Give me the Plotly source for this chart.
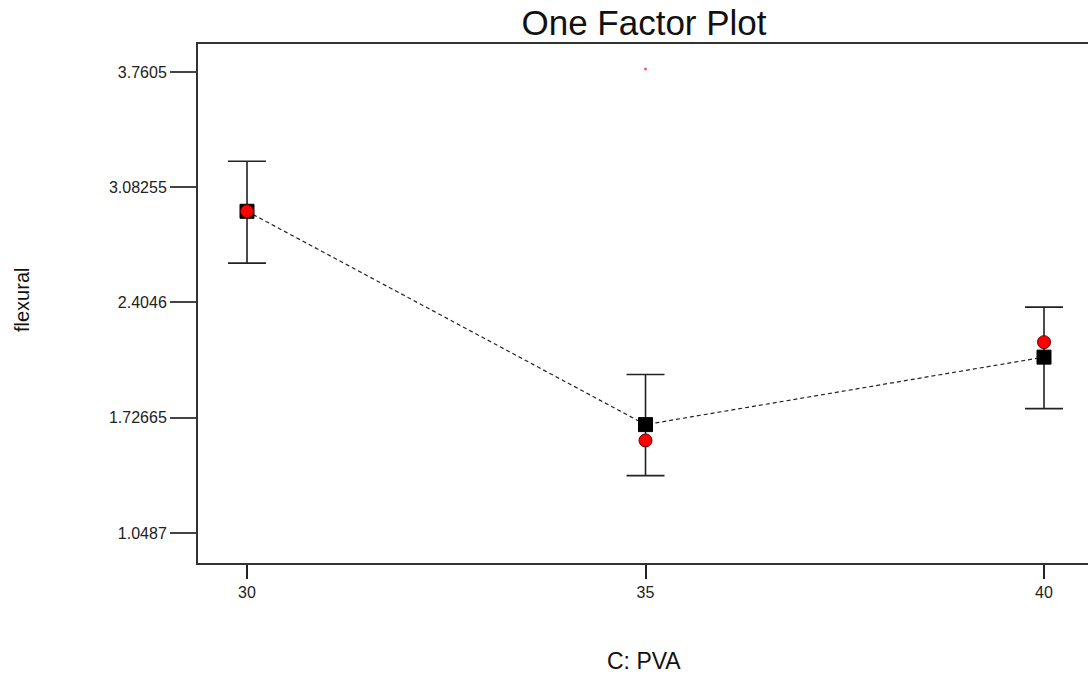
import plotly.graph_objects as go

# Data
pva_levels = [30, 35, 40]
predicted = [2.941, 1.686, 2.083]
actual = [2.941, 1.593, 2.171]
ci_upper = [3.235, 1.981, 2.377]
ci_lower = [2.636, 1.386, 1.780]
outlier_x = [35]
outlier_y = [3.778]

y_ticks = [1.0487, 1.72665, 2.4046, 3.08255, 3.7605]
y_tick_labels = ["1.0487", "1.72665", "2.4046", "3.08255", "3.7605"]
x_ticks = [30, 35, 40]

W, H = 1088, 674
L, T, B, R = 198, 44, 111, 0
font = "Liberation Sans, Arial, sans-serif"

fig = go.Figure()

# dashed model line
fig.add_trace(go.Scatter(
    x=pva_levels, y=predicted, mode="lines",
    line=dict(color="#222222", width=1.2, dash="4px,3px"),
    hoverinfo="skip", showlegend=False))

# error bars (around predicted) + predicted squares
fig.add_trace(go.Scatter(
    x=pva_levels, y=predicted, mode="markers",
    marker=dict(symbol="square", size=14, color="black", line=dict(color="black", width=1)),
    error_y=dict(type="data", symmetric=False,
                 array=[u - p for u, p in zip(ci_upper, predicted)],
                 arrayminus=[p - l for p, l in zip(predicted, ci_lower)],
                 color="#222222", thickness=1.6, width=19),
    showlegend=False))

# actual points
fig.add_trace(go.Scatter(
    x=pva_levels, y=actual, mode="markers",
    marker=dict(symbol="circle", size=13, color="#ff0000", line=dict(color="#660000", width=1)),
    showlegend=False))

# tiny stray point
fig.add_trace(go.Scatter(
    x=outlier_x, y=outlier_y, mode="markers",
    marker=dict(symbol="circle", size=3, color="#f06070"),
    showlegend=False))

fig.update_layout(
    width=W, height=H,
    margin=dict(l=L, r=R, t=T, b=B),
    paper_bgcolor="white", plot_bgcolor="white",
    font=dict(family=font, color="#222222"),
    title=dict(text="One Factor Plot", x=(644) / W, xanchor="center",
               y=1 - 23 / H, yanchor="middle",
               font=dict(size=35, color="#111111", family=font)),
    xaxis=dict(range=[29.385, 40.552], tickvals=x_ticks,
               ticktext=[str(v) for v in x_ticks],
               showgrid=False, zeroline=False,
               showline=True, linecolor="#333333", linewidth=2, mirror=True,
               ticks="outside", ticklen=14, tickwidth=1.5, tickcolor="#222222",
               tickfont=dict(size=16, color="#222222")),
    yaxis=dict(range=[0.872, 3.925], tickvals=y_ticks, ticktext=y_tick_labels,
               showgrid=False, zeroline=False,
               showline=True, linecolor="#333333", linewidth=2, mirror=False,
               ticks="outside", ticklen=26, tickwidth=1.5, tickcolor="#444444",
               tickfont=dict(size=16, color="#222222")),
    annotations=[
        dict(text="C: PVA", xref="paper", yref="paper",
             x=(644 - L) / (W - L - R), y=-(661 - (H - B)) / (H - T - B),
             xanchor="center", yanchor="middle", showarrow=False,
             font=dict(size=23, color="#111111", family=font)),
        dict(text="flexural", xref="paper", yref="paper",
             x=-(L - 22) / (W - L - R), y=1 - (300 - T) / (H - T - B),
             xanchor="center", yanchor="middle", showarrow=False, textangle=-90,
             font=dict(size=20, color="#111111", family=font)),
    ],
)

fig.write_html("out.html")
